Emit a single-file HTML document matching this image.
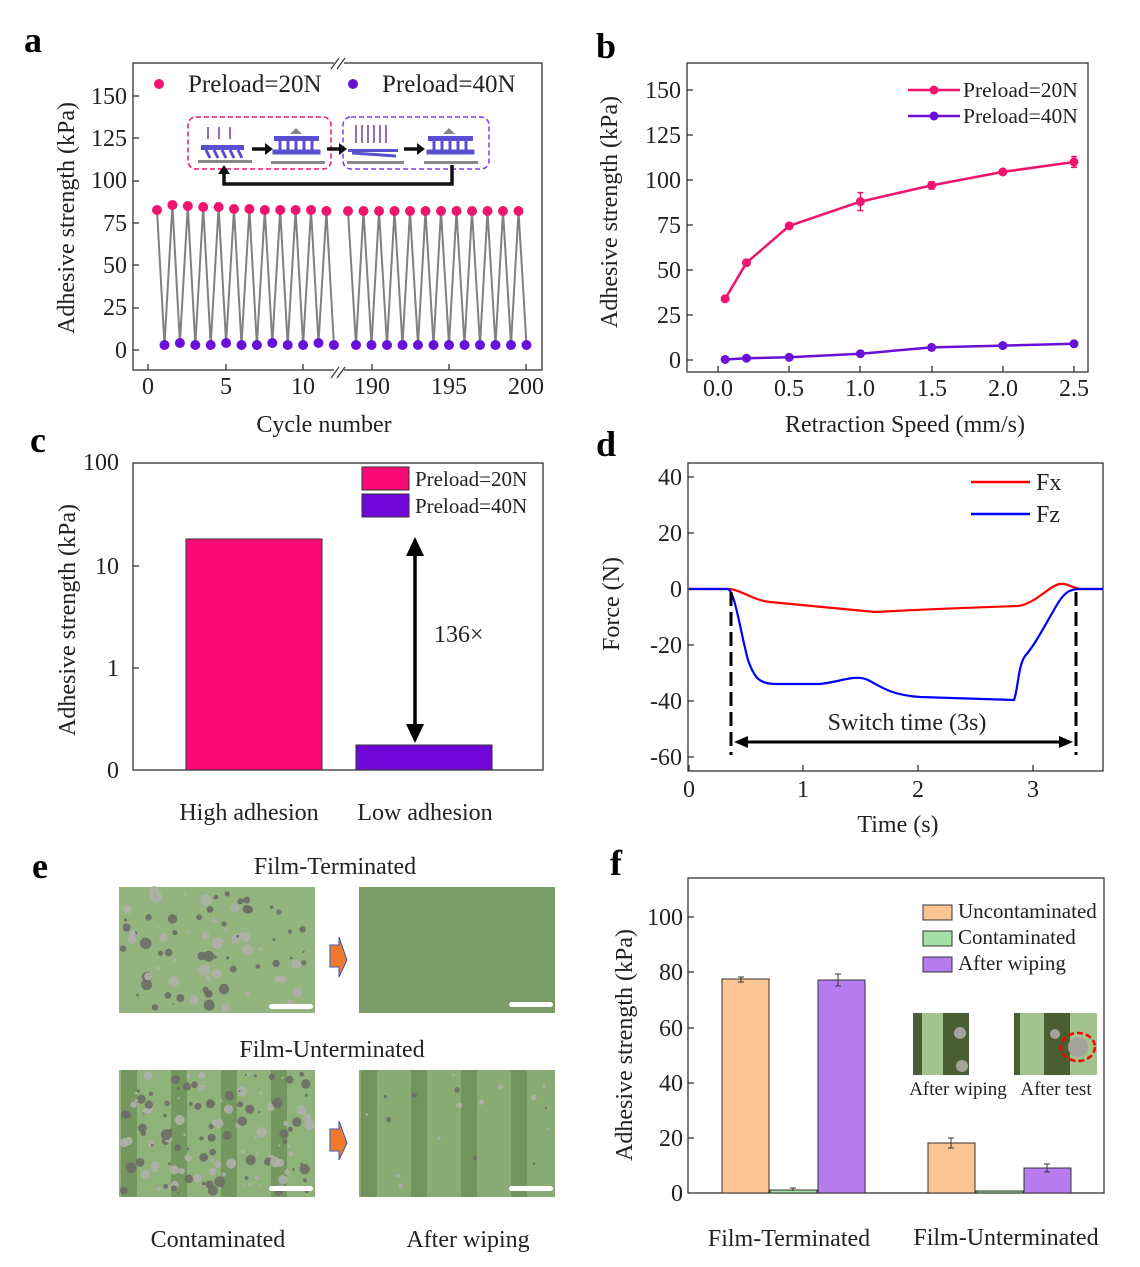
<!DOCTYPE html>
<html><head><meta charset="utf-8"><style>
html,body{margin:0;padding:0;background:#fff}
svg{display:block;font-family:"Liberation Serif",serif}
</style></head><body>
<svg id="s" width="1140" height="1267" viewBox="0 0 1140 1267" xmlns="http://www.w3.org/2000/svg">
<defs>
<clipPath id="c1"><rect x="119" y="1070" width="196" height="127"/></clipPath>
<clipPath id="c2"><rect x="359" y="1070" width="196" height="127"/></clipPath>
</defs>
<rect width="1140" height="1267" fill="#fff"/>
<g font-weight="bold" font-size="36">
<text x="24" y="52">a</text><text x="596" y="58">b</text><text x="30" y="452">c</text><text x="596" y="456">d</text><text x="32" y="878">e</text><text x="610" y="875">f</text>
</g>
<g id="ticks" stroke="#333" stroke-width="1.3"></g>

<!-- Panel a -->
<rect x="133" y="63" width="409" height="307" fill="none" stroke="#333" stroke-width="1.3"/>
<g font-size="24" fill="#222">
<text x="127" y="104" text-anchor="end">150</text><text x="127" y="146" text-anchor="end">125</text><text x="127" y="188" text-anchor="end">100</text><text x="127" y="231" text-anchor="end">75</text><text x="127" y="273" text-anchor="end">50</text><text x="127" y="315" text-anchor="end">25</text><text x="127" y="358" text-anchor="end">0</text>
<text x="148" y="394" text-anchor="middle">0</text><text x="226" y="394" text-anchor="middle">5</text><text x="303" y="394" text-anchor="middle">10</text><text x="372" y="394" text-anchor="middle">190</text><text x="449" y="394" text-anchor="middle">195</text><text x="526" y="394" text-anchor="middle">200</text>
<text x="324" y="432" text-anchor="middle">Cycle number</text>
<text transform="translate(74,218) rotate(-90)" text-anchor="middle">Adhesive strength (kPa)</text>
<text x="188" y="92" font-size="25">Preload=20N</text><text x="382" y="92" font-size="25">Preload=40N</text>
</g>
<circle cx="159" cy="84" r="5" fill="#f0146e"/><circle cx="353" cy="84" r="5" fill="#6a0fd8"/>
<rect x="334" y="55" width="10" height="14" fill="#fff"/><rect x="334" y="364" width="10" height="14" fill="#fff"/>
<g stroke="#333" stroke-width="1.2"><line x1="331" y1="69" x2="339" y2="58"/><line x1="337" y1="69" x2="345" y2="58"/><line x1="331" y1="378" x2="339" y2="367"/><line x1="337" y1="378" x2="345" y2="367"/></g>
<!-- inset -->
<rect x="188" y="117" width="143" height="52" rx="8" fill="none" stroke="#f0146e" stroke-width="1.5" stroke-dasharray="5,3"/>
<rect x="343" y="117" width="146" height="52" rx="8" fill="none" stroke="#7b3bf0" stroke-width="1.5" stroke-dasharray="5,3"/>
<g fill="#5a4fd0"><rect x="201" y="145" width="43" height="5"/><rect x="274" y="136" width="45" height="5"/><rect x="428" y="136" width="45" height="5"/><rect x="348" y="149" width="50" height="3"/></g>
<g stroke="#5a4fd0" stroke-width="3"><line x1="206" y1="150" x2="210" y2="158"/><line x1="214" y1="150" x2="218" y2="158"/><line x1="222" y1="150" x2="226" y2="158"/><line x1="230" y1="150" x2="234" y2="158"/><line x1="238" y1="150" x2="242" y2="158"/>
<line x1="280" y1="141" x2="280" y2="153"/><line x1="288" y1="141" x2="288" y2="153"/><line x1="296" y1="141" x2="296" y2="153"/><line x1="304" y1="141" x2="304" y2="153"/><line x1="312" y1="141" x2="312" y2="153"/>
<line x1="434" y1="141" x2="434" y2="153"/><line x1="442" y1="141" x2="442" y2="153"/><line x1="450" y1="141" x2="450" y2="153"/><line x1="458" y1="141" x2="458" y2="153"/><line x1="466" y1="141" x2="466" y2="153"/>
<line x1="352" y1="153" x2="396" y2="156"/>
<rect x="274" y="151" width="45" height="2"/><rect x="428" y="151" width="45" height="2"/></g>
<g fill="#888"><rect x="198" y="160" width="54" height="3"/><rect x="271" y="161" width="54" height="3"/><rect x="347" y="161" width="57" height="3"/><rect x="424" y="161" width="54" height="3"/></g>
<g stroke="#111" stroke-width="3.5" fill="none"><line x1="252" y1="149" x2="266" y2="149"/><line x1="327" y1="149" x2="340" y2="149"/><line x1="404" y1="149" x2="418" y2="149"/><polyline points="452,165 452,184 224,184 224,172"/></g>
<g fill="#111"><polygon points="265,143 273,149 265,155"/><polygon points="339,143 347,149 339,155"/><polygon points="417,143 425,149 417,155"/><polygon points="218,174 224,165 230,174"/></g>
<g fill="#888"><polygon points="290,134 296,128 302,134"/><polygon points="443,134 449,128 455,134"/></g>
<g id="arr" stroke="#7040a0" stroke-width="1.5"></g>
<g id="adata"></g>

<!-- Panel b -->
<rect x="687" y="63" width="401" height="309" fill="none" stroke="#333" stroke-width="1.3"/>
<g font-size="24" fill="#222">
<text x="681" y="98" text-anchor="end">150</text><text x="681" y="143" text-anchor="end">125</text><text x="681" y="188" text-anchor="end">100</text><text x="681" y="233" text-anchor="end">75</text><text x="681" y="278" text-anchor="end">50</text><text x="681" y="323" text-anchor="end">25</text><text x="681" y="368" text-anchor="end">0</text>
<text x="718" y="396" text-anchor="middle">0.0</text><text x="789" y="396" text-anchor="middle">0.5</text><text x="860" y="396" text-anchor="middle">1.0</text><text x="932" y="396" text-anchor="middle">1.5</text><text x="1003" y="396" text-anchor="middle">2.0</text><text x="1074" y="396" text-anchor="middle">2.5</text>
<text x="905" y="432" text-anchor="middle">Retraction Speed (mm/s)</text>
<text transform="translate(617,212) rotate(-90)" text-anchor="middle">Adhesive strength (kPa)</text>
<text x="963" y="97" font-size="21.5">Preload=20N</text><text x="963" y="123" font-size="21.5">Preload=40N</text>
</g>
<g stroke-width="2.5"><line x1="908" y1="90" x2="960" y2="90" stroke="#f0146e"/><line x1="908" y1="116" x2="960" y2="116" stroke="#6a0fd8"/></g>
<circle cx="934" cy="90" r="4.5" fill="#f0146e"/><circle cx="934" cy="116" r="4.5" fill="#6a0fd8"/>
<g id="bdata"></g>

<!-- Panel c -->
<rect x="133" y="463" width="410" height="307" fill="none" stroke="#333" stroke-width="1.3"/>
<rect x="186" y="539" width="136" height="231" fill="#fb0b78" stroke="#333"/>
<rect x="356" y="745" width="136" height="25" fill="#7006d8" stroke="#333"/>
<rect x="362" y="467" width="47" height="23" fill="#fb0b78" stroke="#333"/>
<rect x="362" y="494" width="47" height="23" fill="#7006d8" stroke="#333"/>
<g font-size="24" fill="#222">
<text x="119" y="470" text-anchor="end">100</text><text x="119" y="574" text-anchor="end">10</text><text x="119" y="676" text-anchor="end">1</text><text x="119" y="778" text-anchor="end">0</text>
<text transform="translate(75,620) rotate(-90)" text-anchor="middle">Adhesive strength (kPa)</text>
<text x="249" y="820" text-anchor="middle">High adhesion</text><text x="425" y="820" text-anchor="middle">Low adhesion</text>
<text x="434" y="642">136×</text>
<text x="415" y="486" font-size="21">Preload=20N</text><text x="415" y="513" font-size="21">Preload=40N</text>
</g>
<line x1="415" y1="552" x2="415" y2="728" stroke="#000" stroke-width="3.5"/>
<polygon points="406,556 415,537 424,556" fill="#000"/><polygon points="406,724 415,743 424,724" fill="#000"/>

<!-- Panel d -->
<rect x="688" y="463" width="415" height="308" fill="none" stroke="#333" stroke-width="1.3"/>
<g font-size="24" fill="#222">
<text x="682" y="485" text-anchor="end">40</text><text x="682" y="541" text-anchor="end">20</text><text x="682" y="597" text-anchor="end">0</text><text x="682" y="653" text-anchor="end">-20</text><text x="682" y="709" text-anchor="end">-40</text><text x="682" y="765" text-anchor="end">-60</text>
<text x="689" y="797" text-anchor="middle">0</text><text x="803" y="797" text-anchor="middle">1</text><text x="918" y="797" text-anchor="middle">2</text><text x="1033" y="797" text-anchor="middle">3</text>
<text x="898" y="832" text-anchor="middle">Time (s)</text>
<text transform="translate(619,604) rotate(-90)" text-anchor="middle">Force (N)</text>
<text x="1036" y="490">Fx</text><text x="1036" y="522">Fz</text>
<text x="907" y="730" text-anchor="middle">Switch time (3s)</text>
</g>
<line x1="971" y1="482" x2="1030" y2="482" stroke="#f00" stroke-width="2.5"/><line x1="971" y1="514" x2="1030" y2="514" stroke="#00f" stroke-width="2.5"/>
<path d="M689,589 L728,589 C740,589 752,600 770,602 L875,612 C930,609 990,607 1018,606 C1035,604 1050,585 1060,584 C1068,583 1072,588 1080,589 L1103,589" fill="none" stroke="#f00" stroke-width="2.2"/>
<path d="M689,589 L728,589 C735,592 740,630 748,660 C755,680 760,683 775,684 L820,684 C840,682 855,674 868,680 C880,686 890,695 920,697 L1014,700 C1018,690 1018,666 1025,656 C1035,645 1045,625 1058,603 C1065,592 1070,589 1080,589 L1103,589" fill="none" stroke="#00f" stroke-width="2.2"/>
<g stroke="#000" stroke-width="3" stroke-dasharray="14,6"><line x1="731" y1="592" x2="731" y2="755"/><line x1="1076" y1="592" x2="1076" y2="755"/></g>
<line x1="745" y1="742" x2="1062" y2="742" stroke="#000" stroke-width="3"/>
<polygon points="748,736 734,742 748,748" fill="#000"/><polygon points="1059,736 1073,742 1059,748" fill="#000"/>

<!-- Panel e -->
<g font-size="24" fill="#222">
<text x="335" y="874" text-anchor="middle">Film-Terminated</text>
<text x="332" y="1057" text-anchor="middle">Film-Unterminated</text>
<text x="218" y="1247" text-anchor="middle">Contaminated</text><text x="468" y="1247" text-anchor="middle">After wiping</text>
</g>
<rect x="119" y="887" width="196" height="126" fill="#93b47e"/>
<rect x="359" y="887" width="196" height="126" fill="#7d9d68"/>
<rect x="119" y="1070" width="196" height="127" fill="#8fb27a"/>
<rect x="359" y="1070" width="196" height="127" fill="#8aab74"/>
<g id="stripes1" clip-path="url(#c1)"></g>
<g id="stripes2" clip-path="url(#c2)"></g>
<g id="speck"></g>
<g fill="#fff"><rect x="269" y="1004" width="44" height="5" rx="2.5"/><rect x="509" y="1002" width="44" height="5" rx="2.5"/><rect x="269" y="1186" width="44" height="5" rx="2.5"/><rect x="509" y="1186" width="44" height="5" rx="2.5"/></g>
<polygon points="330,945 339,945 339,937 347,960 339,977 339,967 330,967" fill="#ef7a2a" stroke="#3a56a8" stroke-width="1"/>
<polygon points="330,1129 339,1129 339,1121 347,1143 339,1160 339,1151 330,1151" fill="#ef7a2a" stroke="#3a56a8" stroke-width="1"/>

<!-- Panel f -->
<rect x="688" y="878" width="416" height="315" fill="none" stroke="#333" stroke-width="1.3"/>
<g font-size="24" fill="#222">
<text x="683" y="925" text-anchor="end">100</text><text x="683" y="980" text-anchor="end">80</text><text x="683" y="1036" text-anchor="end">60</text><text x="683" y="1091" text-anchor="end">40</text><text x="683" y="1146" text-anchor="end">20</text><text x="683" y="1201" text-anchor="end">0</text>
<text transform="translate(632,1045) rotate(-90)" text-anchor="middle">Adhesive strength (kPa)</text>
<text x="789" y="1246" text-anchor="middle">Film-Terminated</text><text x="1006" y="1245" text-anchor="middle">Film-Unterminated</text>
<text x="958" y="918" font-size="21">Uncontaminated</text><text x="958" y="944" font-size="21">Contaminated</text><text x="958" y="970" font-size="21">After wiping</text>
<text x="958" y="1095" font-size="19" text-anchor="middle">After wiping</text><text x="1056" y="1095" font-size="19" text-anchor="middle">After test</text>
</g>
<g stroke="#333" stroke-width="1">
<rect x="923" y="905" width="29" height="15" fill="#fbc593"/><rect x="923" y="931" width="29" height="15" fill="#a5e0a8"/><rect x="923" y="957" width="29" height="15" fill="#b77cf0"/>
<rect x="722" y="979" width="47" height="214" fill="#fbc593"/><rect x="770" y="1190" width="47" height="3" fill="#a5e0a8"/><rect x="818" y="980" width="47" height="213" fill="#b77cf0"/>
<rect x="928" y="1143" width="47" height="50" fill="#fbc593"/><rect x="976" y="1191" width="47" height="2" fill="#a5e0a8"/><rect x="1024" y="1168" width="47" height="25" fill="#b77cf0"/>
<path d="M741,977v5M738,977h6M738,982h6 M793,1188v3M790,1188h6 M838,974v12M835,974h6M835,986h6 M951,1138v10M948,1138h6M948,1148h6 M1047,1164v8M1044,1164h6M1044,1172h6" fill="none"/>
</g>
<rect x="913" y="1013" width="55" height="62" fill="#a3c28e"/>
<rect x="1014" y="1013" width="83" height="62" fill="#a3c28e"/>
<g fill="#4a5e34"><rect x="913" y="1013" width="9" height="62"/><rect x="943" y="1013" width="26" height="62"/><rect x="1014" y="1013" width="6" height="62"/><rect x="1044" y="1013" width="26" height="62"/></g>
<g fill="#a3a39a"><circle cx="960" cy="1033" r="6"/><circle cx="962" cy="1066" r="6"/><circle cx="1078" cy="1047" r="10"/><circle cx="1055" cy="1034" r="5"/></g>
<ellipse cx="1078" cy="1047" rx="17" ry="14" fill="none" stroke="#f00" stroke-width="2.5" stroke-dasharray="6,3"/>
</svg>
<script>
var NS="http://www.w3.org/2000/svg";
function el(p,t,a){var e=document.createElementNS(NS,t);for(var k in a)e.setAttribute(k,a[k]);document.getElementById(p).appendChild(e);return e;}
// ticks
function yt(x,ys){ys.forEach(function(y){el("ticks","line",{x1:x,y1:y,x2:x+6,y2:y});});}
function xt(y,xs){xs.forEach(function(x){el("ticks","line",{x1:x,y1:y,x2:x,y2:y-6});});}
yt(133,[96,138,181,223,265,308,350]);xt(370,[148,226,303,372,449,526]);
yt(687,[90,135,180,225,270,315,360]);xt(372,[718,789,860,932,1003,1074]);
yt(133,[566,668]);
yt(688,[477,533,589,645,701,757]);xt(771,[689,803,918,1033]);
yt(688,[917,972,1028,1083,1138]);
// arrows in inset
[208,219,230].forEach(function(x){el("arr","line",{x1:x,y1:127,x2:x,y2:139});});
for(var i=0;i<6;i++)el("arr","line",{x1:356+i*6,y1:125,x2:356+i*6,y2:143});
// panel a data
var pts=[];var pkY=[210,205,206,207,207,209,209,210,210,210,210,211];
for(var i=0;i<12;i++){pts.push([157+i*15.4,pkY[i]]);pts.push([164.5+i*15.4,i%3==1?343:345]);}
for(var i=0;i<12;i++){pts.push([348+i*15.5,211]);pts.push([356+i*15.5,345]);}
var d="";pts.forEach(function(p,i){d+=((i==0||i==24)?"M":"L")+p[0]+","+p[1]+" ";});
el("adata","path",{d:d,fill:"none",stroke:"#808080","stroke-width":2});
pts.forEach(function(p){el("adata","circle",{cx:p[0],cy:p[1],r:5,fill:p[1]<300?"#f0146e":"#6a0fd8"});});
// panel b
function bx(v){return 718+v*142.4}function by(v){return 360-v*1.8}
var P=[[0.05,34],[0.2,54],[0.5,74.5],[1,88],[1.5,97],[2,104.5],[2.5,110]],Q=[[0.05,0.3],[0.2,1],[0.5,1.5],[1,3.5],[1.5,7],[2,8],[2.5,9]];
[[P,"#f0146e"],[Q,"#6a0fd8"]].forEach(function(s){var d="";s[0].forEach(function(p,i){d+=(i?"L":"M")+bx(p[0])+","+by(p[1]);});
el("bdata","path",{d:d,fill:"none",stroke:s[1],"stroke-width":2.5});s[0].forEach(function(p){el("bdata","circle",{cx:bx(p[0]),cy:by(p[1]),r:4.5,fill:s[1]});});});
[[1,5],[2.5,3],[1.5,2]].forEach(function(e){var x=bx(e[0]),y=by(P.filter(function(p){return p[0]==e[0]})[0][1]);el("bdata","path",{d:"M"+x+","+(y-e[1]*1.8)+"V"+(y+e[1]*1.8)+"M"+(x-3)+","+(y-e[1]*1.8)+"h6M"+(x-3)+","+(y+e[1]*1.8)+"h6",stroke:"#f0146e","stroke-width":1.5});});
// stripes
[[119,"stripes1"],[359,"stripes2"]].forEach(function(b){for(var i=0;i<4;i++)el(b[1],"rect",{x:b[0]+i*50+2,y:1070,width:16,height:127,fill:"#5f7f48",opacity:0.55});});
// speckles
var seed=7;function r(){seed=(seed*9301+49297)%233280;return seed/233280;}
function sp(x0,y0,w,h,n,rmax){for(var i=0;i<n;i++){el("speck","circle",{cx:x0+r()*w,cy:y0+r()*h,r:1+r()*rmax,fill:r()<0.5?"#6d6d66":"#b0b0aa",opacity:0.9});}}
sp(123,891,188,118,90,5);sp(123,1074,188,119,140,4.5);sp(363,1074,188,119,18,2);
</script>
</body></html>
